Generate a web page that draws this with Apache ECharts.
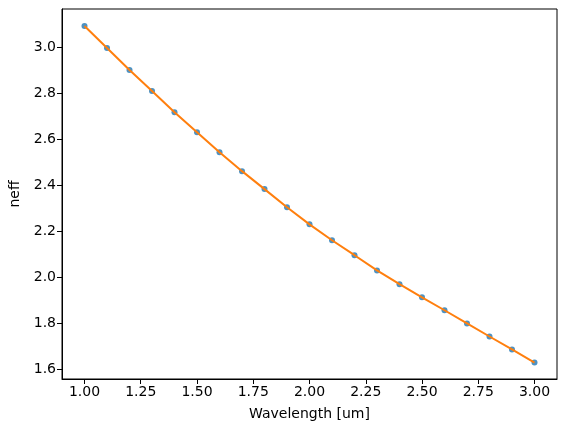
<!DOCTYPE html>
<html>
<head>
<meta charset="utf-8">
<script src="https://cdn.jsdelivr.net/npm/echarts@6/dist/echarts.min.js"></script>
<style>
  html, body { margin: 0; padding: 0; background: #fff; }
  #chart { width: 567px; height: 432px; }
</style>
</head>
<body>
<div id="chart"></div>
<script>
// measured points
var wavelength = [1.0, 1.1, 1.2, 1.3, 1.4, 1.5, 1.6, 1.7, 1.8, 1.9, 2.0,
                  2.1, 2.2, 2.3, 2.4, 2.5, 2.6, 2.7, 2.8, 2.9, 3.0];
var neff = [3.091, 2.996, 2.900, 2.809, 2.717, 2.630, 2.543, 2.461, 2.383, 2.304, 2.230,
            2.161, 2.096, 2.030, 1.970, 1.913, 1.857, 1.800, 1.743, 1.687, 1.630];
var xTicks = [1.0, 1.25, 1.5, 1.75, 2.0, 2.25, 2.5, 2.75, 3.0];
var yTicks = [1.6, 1.8, 2.0, 2.2, 2.4, 2.6, 2.8, 3.0];

var pts = wavelength.map(function (w, i) { return [w, neff[i]]; });

var font = 'DejaVu Sans';
var txt = '#000';

var myChart = echarts.init(document.getElementById('chart'));
var option = {
  animation: false,
  backgroundColor: '#fff',
  grid: { left: 61, right: 10, top: 9, bottom: 53, containLabel: false },
  xAxis: {
    type: 'value',
    min: 0.9,
    max: 3.1,
    name: 'Wavelength [um]',
    nameLocation: 'middle',
    nameGap: 28,
    nameTextStyle: { fontFamily: font, fontSize: 14, color: txt },
    axisLine: { show: true, onZero: false, lineStyle: { color: '#000', width: 1 } },
    axisTick: { show: true, length: 5, customValues: xTicks, lineStyle: { color: '#000', width: 1 } },
    axisLabel: {
      customValues: xTicks, margin: 6, fontFamily: font, fontSize: 14, color: txt,
      formatter: function (v) { return v.toFixed(2); }
    },
    splitLine: { show: false }
  },
  yAxis: {
    type: 'value',
    min: 1.5585,
    max: 3.165,
    name: 'neff',
    nameLocation: 'middle',
    nameGap: 40,
    nameTextStyle: { fontFamily: font, fontSize: 14, color: txt },
    axisLine: { show: true, onZero: false, lineStyle: { color: '#000', width: 1 } },
    axisTick: { show: true, length: 5, customValues: yTicks, lineStyle: { color: '#000', width: 1 } },
    axisLabel: {
      customValues: yTicks, margin: 6, fontFamily: font, fontSize: 14, color: txt,
      formatter: function (v) { return v.toFixed(1); }
    },
    splitLine: { show: false }
  },
  series: [
    {
      type: 'scatter',
      data: pts,
      symbol: 'circle',
      symbolSize: 6,
      itemStyle: { color: '#1f77b4' },
      z: 2
    },
    {
      type: 'line',
      data: pts,
      showSymbol: false,
      lineStyle: { color: '#ff7f0e', width: 2 },
      z: 3
    }
  ]
};
myChart.setOption(option);

// closed box round the plot area
var rect = myChart.getModel().getComponent('grid').coordinateSystem.getRect();
myChart.setOption({
  graphic: [{
    type: 'rect',
    shape: { x: rect.x, y: rect.y, width: rect.width, height: rect.height },
    style: { fill: null, stroke: '#000', lineWidth: 1 },
    silent: true,
    z: 10
  }]
});
</script>
</body>
</html>
